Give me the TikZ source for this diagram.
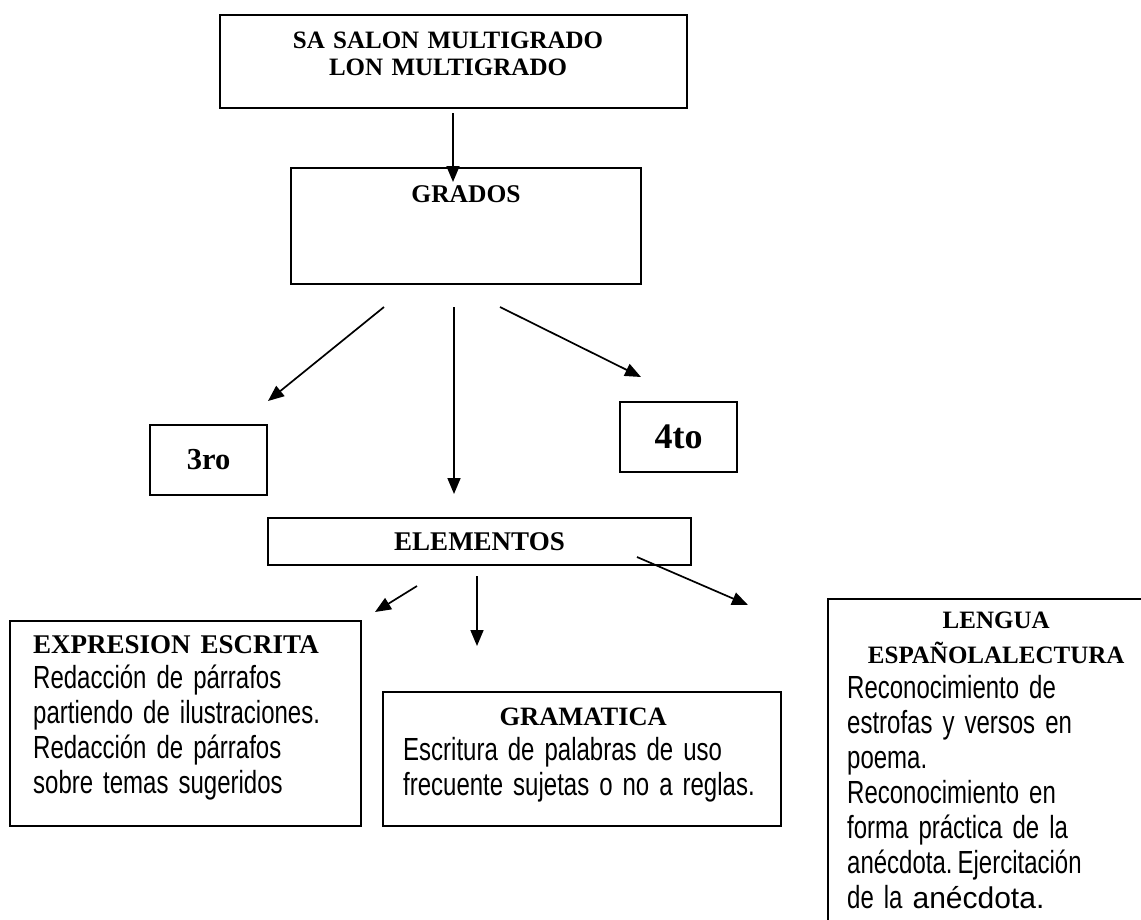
\documentclass[tikz,border=0pt]{standalone}
\usepackage{fontspec}
\setmainfont{Liberation Serif}
\newfontfamily\narrowsans{Liberation Sans}[FakeStretch=0.75]
\newfontfamily\plainsans{Liberation Sans}
\usetikzlibrary{arrows.meta}

\newcommand{\headtxt}[1]{\fontsize{#1}{35}\selectfont\bfseries\spaceskip=10pt plus 2pt minus 1pt\relax}
\newcommand{\titulotxt}{\fontsize{25}{27}\selectfont\bfseries\spaceskip=10pt plus 2pt minus 1pt\relax}
\newcommand{\bodytxt}{\normalfont\narrowsans\fontsize{32}{35}\selectfont\spaceskip=10pt plus 2pt minus 1pt\relax}

\begin{document}
\begin{tikzpicture}[x=1pt,y=-1pt,
  caja/.style={draw,line width=1.7pt,inner sep=0pt},
  flecha/.style={line width=1.7pt,-{Triangle[length=16pt,width=13pt]}},
  txt/.style={inner sep=0pt,align=left}]
\useasboundingbox (0,0) rectangle (1141,919);
\clip (0,0) rectangle (1141,919);

% cajas
\node[caja,minimum width=467pt,minimum height=93pt] (salon) at (453.5,61.5) {};
\node[txt,anchor=base,text width=420pt,align=center,font=\titulotxt] (salontxt) at (448,48)
  {SA SALON MULTIGRADO\\LON MULTIGRADO\par};

\node[caja,minimum width=350pt,minimum height=116pt] (grados) at (466,226) {};
\node[txt,anchor=base,font=\headtxt{25.5}] (gradostxt) at (466,202) {GRADOS};

\node[caja,minimum width=117pt,minimum height=70pt,font=\headtxt{30.5}] (tercero) at (208.5,460) {3ro};
\node[caja,minimum width=117pt,minimum height=70pt,font=\headtxt{36}] (cuarto) at (678.5,437) {4to};

\node[caja,minimum width=423pt,minimum height=47pt,font=\headtxt{27}] (elementos) at (479.5,541.5) {ELEMENTOS};

\node[caja,minimum width=351pt,minimum height=205pt] (expresion) at (185.5,723.5) {};
\node[txt,anchor=base west,text width=330pt] (expresiontxt) at (33,653)
  {\headtxt{27}EXPRESION ESCRITA\par
   \bodytxt Redacción de párrafos\\partiendo de ilustraciones.\\Redacción de párrafos\\sobre temas sugeridos\par};

\node[caja,minimum width=398pt,minimum height=134pt] (gramatica) at (582,759) {};
\node[txt,anchor=base west,text width=375pt] (gramaticatxt) at (403,725)
  {\makebox[360pt][c]{\headtxt{26.5}GRAMATICA}\par
   \bodytxt Escritura de palabras de uso\\frecuente sujetas o no a reglas.\par};

\node[caja,minimum width=336pt,minimum height=361pt] (lengua) at (996,779.5) {};
\node[txt,anchor=base west,text width=298pt] (lenguatxt) at (847,628)
  {{\centering\headtxt{25}LENGUA\\ESPAÑOLALECTURA\par}
   \bodytxt Reconocimiento de\\estrofas y versos en\\poema.\\Reconocimiento en\\forma práctica de la\\anécdota. Ejercitación\\de la {\plainsans\fontsize{30}{35}\selectfont anécdota.}\par};

% flechas
\coordinate (s1) at (453,113);  \coordinate (e1) at (453,182);
\coordinate (s2) at (384,307);  \coordinate (e2) at (268,401);
\coordinate (s3) at (454,307);  \coordinate (e3) at (454,494);
\coordinate (s4) at (500,307);  \coordinate (e4) at (641,377);
\coordinate (s5) at (417,586);  \coordinate (e5) at (375,612);
\coordinate (s6) at (477,576);  \coordinate (e6) at (477,646);
\coordinate (s7) at (637,557);  \coordinate (e7) at (748,605);
\foreach \i in {1,...,7}
  \draw[flecha] (s\i) -- (e\i);

\end{tikzpicture}
\end{document}
